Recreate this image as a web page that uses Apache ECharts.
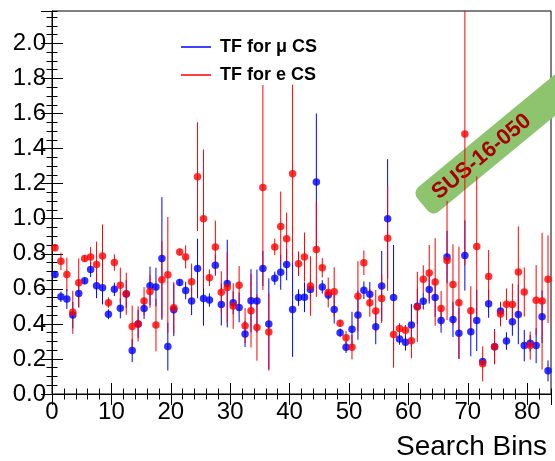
<!DOCTYPE html>
<html>
<head>
<meta charset="utf-8">
<script src="https://cdn.jsdelivr.net/npm/echarts@6/dist/echarts.min.js"></script>
<style>
html,body{margin:0;padding:0;background:#fff;}
#chart{width:555px;height:461px;}
</style>
</head>
<body>
<div id="chart"></div>
<script>
// ---- data ----
const nBins = 84;
const xTickLabels = [0, 10, 20, 30, 40, 50, 60, 70, 80];
const yTickLabels = ['0.0','0.2','0.4','0.6','0.8','1.0','1.2','1.4','1.6','1.8','2.0'];
const muName = 'TF for \u03BC CS';
const eName = 'TF for e CS';
const muTF = [0.682,0.555,0.542,0.450,0.574,0.646,0.710,0.617,0.606,0.455,
  0.597,0.489,0.570,0.248,0.400,0.488,0.617,0.610,0.773,0.271,
  0.480,0.636,0.590,0.530,0.716,0.545,0.536,0.735,0.511,0.630,
  0.520,0.494,0.343,0.532,0.530,0.716,0.400,0.660,0.695,0.739,
  0.482,0.550,0.552,0.596,1.210,0.611,0.565,0.482,0.350,0.267,
  0.369,0.450,0.592,0.569,0.384,0.616,1.000,0.550,0.314,0.295,
  0.393,0.500,0.529,0.596,0.550,0.420,0.781,0.425,0.346,0.790,
  0.355,0.420,0.185,0.515,0.270,0.473,0.302,0.412,0.454,0.276,
  0.289,0.276,0.441,0.132];
const muErr = [0.020,0.030,0.057,0.075,0.080,0.020,0.043,0.070,0.095,0.028,
  0.038,0.057,0.080,0.066,0.080,0.060,0.110,0.110,0.350,0.137,
  0.150,0.020,0.050,0.080,0.170,0.155,0.038,0.060,0.120,0.250,
  0.066,0.085,0.075,0.180,0.180,0.100,0.260,0.038,0.100,0.090,
  0.270,0.047,0.085,0.060,0.390,0.038,0.028,0.080,0.024,0.033,
  0.100,0.140,0.050,0.070,0.100,0.200,0.340,0.300,0.033,0.047,
  0.120,0.100,0.047,0.080,0.110,0.070,0.150,0.100,0.146,0.200,
  0.140,0.175,0.020,0.080,0.100,0.028,0.050,0.080,0.170,0.090,
  0.047,0.100,0.150,0.060];
const eTF = [0.835,0.757,0.682,0.466,0.634,0.773,0.782,0.739,0.787,0.521,
  0.750,0.621,0.572,0.385,0.400,0.530,0.585,0.393,0.652,0.680,
  0.492,0.810,0.782,0.640,1.240,1.000,0.663,0.839,0.580,0.607,
  0.502,0.620,0.390,0.475,0.380,1.178,0.354,0.839,0.955,0.885,
  1.257,0.743,0.781,0.616,0.824,0.720,0.579,0.583,0.403,0.321,
  0.267,0.558,0.749,0.520,0.473,0.545,0.889,0.340,0.374,0.363,
  0.304,0.497,0.654,0.690,0.639,0.488,0.762,0.624,0.520,1.484,
  0.475,0.841,0.172,0.671,0.270,0.456,0.512,0.510,0.696,0.582,
  0.276,0.535,0.530,0.655];
const eErr = [0.020,0.050,0.096,0.123,0.140,0.020,0.057,0.130,0.180,0.030,
  0.047,0.100,0.120,0.120,0.100,0.080,0.095,0.150,0.220,0.330,
  0.146,0.020,0.066,0.104,0.310,0.395,0.047,0.150,0.120,0.200,
  0.130,0.110,0.100,0.210,0.190,0.585,0.220,0.047,0.200,0.150,
  0.507,0.070,0.140,0.170,0.270,0.055,0.085,0.140,0.020,0.040,
  0.070,0.200,0.070,0.080,0.120,0.140,0.300,0.190,0.030,0.030,
  0.100,0.200,0.080,0.160,0.250,0.100,0.340,0.230,0.320,0.750,
  0.140,0.400,0.100,0.150,0.100,0.070,0.090,0.120,0.260,0.140,
  0.080,0.200,0.390,0.250];

// ---- build ----
const X_MIN = 0, X_MAX = nBins, Y_MIN = 0, Y_MAX = 2.185;
const BLUE = '#0000ff', RED = '#ff0000';
const FONT = 'Liberation Sans, Arial, sans-serif';

function pts(v) { return v.map((y, i) => [i + 0.5, y]); }
function bars(v, e) { return v.map((y, i) => [i + 0.5, y - e[i], y + e[i]]); }

function errRender(params, api) {
  const x = api.value(0);
  const p1 = api.coord([x, api.value(1)]);
  const p2 = api.coord([x, api.value(2)]);
  const cs = params.coordSys;
  const top = cs.y, bot = cs.y + cs.height;
  const y1 = Math.min(Math.max(p1[1], top), bot);
  const y2 = Math.min(Math.max(p2[1], top), bot);
  return {
    type: 'line',
    shape: { x1: p1[0], y1: y1, x2: p2[0], y2: y2 },
    style: { stroke: api.visual('color'), lineWidth: 1 }
  };
}

const tickStyle = { color: '#000', width: 1 };
function xAxisDef(pos, major, labels) {
  return {
    type: 'value', position: pos, min: X_MIN, max: X_MAX,
    interval: major ? 10 : 2,
    axisLine: { show: major, lineStyle: { color: '#000', width: 1 } },
    axisTick: { show: true, inside: true, length: major ? 11 : 5.5, lineStyle: tickStyle },
    axisLabel: labels ? {
      show: true, fontSize: 24, color: '#000', fontFamily: FONT, margin: 6,
      showMaxLabel: false,
      formatter: v => (xTickLabels.indexOf(v) >= 0 ? String(v) : '')
    } : { show: false },
    splitLine: { show: false },
    name: labels ? 'Search Bins' : '',
    nameLocation: 'end', nameGap: 0,
    nameTextStyle: labels ? { fontSize: 28, color: '#000', fontFamily: FONT,
      align: 'right', verticalAlign: 'top', padding: [39, 4, 0, 0] } : {}
  };
}
function yAxisDef(pos, major, labels) {
  return {
    type: 'value', position: pos, min: Y_MIN, max: Y_MAX,
    interval: major ? 0.2 : 0.05,
    axisLine: { show: major, lineStyle: { color: '#000', width: 1 } },
    axisTick: { show: true, inside: true, length: major ? 11 : 5.5, lineStyle: tickStyle },
    axisLabel: labels ? {
      show: true, fontSize: 24, color: '#000', fontFamily: FONT, margin: 6,
      showMaxLabel: false,
      formatter: v => {
        const s = v.toFixed(1);
        return yTickLabels.indexOf(s) >= 0 && Math.abs(v - parseFloat(s)) < 1e-6 ? s : '';
      }
    } : { show: false },
    splitLine: { show: false }
  };
}

const chart = echarts.init(document.getElementById('chart'), null, { renderer: 'canvas' });
chart.setOption({
  animation: false,
  backgroundColor: '#fff',
  grid: { left: 52, right: 4, top: 11, bottom: 65, containLabel: false,
    show: true, borderColor: '#000', borderWidth: 1, backgroundColor: 'transparent' },
  xAxis: [xAxisDef('bottom', true, true), xAxisDef('bottom', false, false),
          xAxisDef('top', true, false), xAxisDef('top', false, false)],
  yAxis: [yAxisDef('left', true, true), yAxisDef('left', false, false),
          yAxisDef('right', true, false), yAxisDef('right', false, false)],
  legend: {
    orient: 'vertical', left: 176, top: 32, itemWidth: 30, itemHeight: 1.5,
    itemGap: 8, selectedMode: false,
    textStyle: { fontSize: 18, fontWeight: 'bold', fontFamily: FONT, color: '#000',
      lineHeight: 20, padding: [0, 0, 0, 4] },
    data: [{ name: muName, icon: 'rect' }, { name: eName, icon: 'rect' }]
  },
  series: [
    { name: muName, type: 'custom', renderItem: errRender, data: bars(muTF, muErr),
      encode: { x: 0, y: [1, 2] }, itemStyle: { color: BLUE }, z: 2 },
    { name: eName, type: 'custom', renderItem: errRender, data: bars(eTF, eErr),
      encode: { x: 0, y: [1, 2] }, itemStyle: { color: RED }, z: 3 },
    { name: muName + ' pts', type: 'scatter', data: pts(muTF), symbol: 'circle', symbolSize: 7.5,
      itemStyle: { color: BLUE }, z: 4 },
    { name: eName + ' pts', type: 'scatter', data: pts(eTF), symbol: 'circle', symbolSize: 7.5,
      itemStyle: { color: RED }, z: 5 }
  ],
  graphic: [{
    type: 'group', x: 481, y: 156, rotation: 0.69, z: 100,
    children: [
      { type: 'rect', shape: { x: -76, y: -16, width: 240, height: 32, r: 8 },
        style: { fill: '#8ec46e' } },
      { type: 'text', style: { text: 'SUS-16-050', x: 0, y: 1, align: 'center', verticalAlign: 'middle',
        font: 'bold 22px "Liberation Sans", Arial, sans-serif', fill: '#a80000' } }
    ]
  }]
});
</script>
</body>
</html>
